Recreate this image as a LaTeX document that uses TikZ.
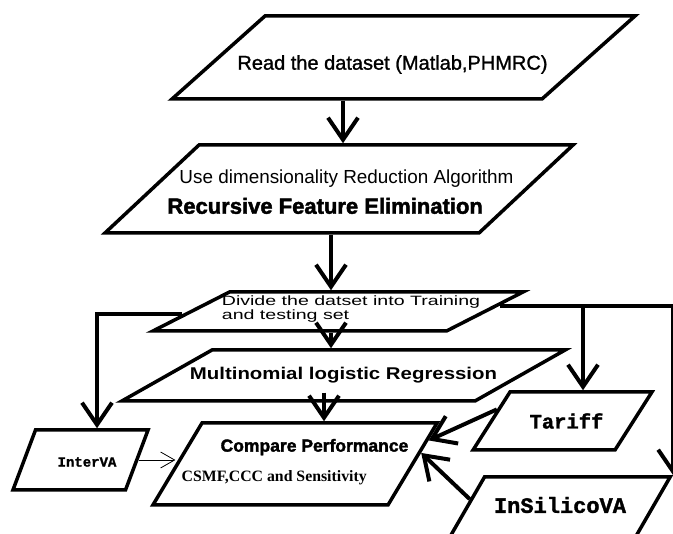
\documentclass[tikz,border=0pt]{standalone}
\usepackage{fontspec}
\setmainfont{Liberation Sans}
\setmonofont{Liberation Mono}[BoldFeatures={FakeBold=1.5}]
\newfontfamily\timesfont{Liberation Serif}
\newfontfamily\semifont{Liberation Sans}[FakeBold=1.2]
\newfontfamily\heavyfont{Liberation Sans}[BoldFeatures={FakeBold=2}]
\newfontfamily\widefont{Liberation Sans}[FakeStretch=1.2]
\newfontfamily\widerfont{Liberation Sans}[FakeStretch=1.45]
\usetikzlibrary{shapes.geometric,arrows.meta}

\begin{document}
\begin{tikzpicture}[x=1pt,y=-1pt,>={Straight Barb[length=22pt,width=30pt]},
  io/.style={trapezium,trapezium left angle=#1,trapezium right angle={180-#1},draw,line width=3.5pt,inner sep=0pt,text depth=0pt},
  flow/.style={->,line width=4pt},
  link/.style={-{Straight Barb[length=14pt,width=16pt]},line width=0.8pt}]
\useasboundingbox (0,0) rectangle (673,534);
\clip (0,0) rectangle (673,534);

\node[io=41.75,text width=277pt,text height=83pt,
  label={[font=\semifont\fontsize{20}{24}\selectfont,xshift=-11pt,yshift=-7pt]center:Read the dataset (Matlab,PHMRC)}] (read) at (403.5,57.5) {};
\node[io=43.1,text width=280pt,text height=88pt,
  label={[align=left,font=\fontsize{18.9}{22}\selectfont,xshift=1.5pt,yshift=-3pt]center:\hspace*{12pt}Use dimensionality Reduction Algorithm\\[8pt]{\heavyfont\bfseries\fontsize{22}{24}\selectfont Recursive Feature Elimination}}] (rfe) at (339,189) {};
\node[io=27,text width=217pt,text height=39pt,
  label={[align=left,font=\widerfont\fontsize{13.5}{12}\selectfont,xshift=13pt,yshift=2.5pt]center:Divide the datset into Training\\and testing set}] (split) at (338,311.5) {};
\node[io=29.5,text width=263pt,text height=51pt,
  label={[font=\widefont\bfseries\fontsize{17}{20}\selectfont]center:Multinomial logistic Regression}] (mlr) at (343.5,375.5) {};
\node[io=59.1,text width=186pt,text height=82pt,
  label={[align=left,font=\fontsize{17.5}{20}\selectfont,yshift=2pt]center:\hspace*{39pt}{\heavyfont\bfseries Compare Performance}\\[10pt]{\timesfont\bfseries\fontsize{15.8}{18}\selectfont CSMF,CCC and Sensitivity}}] (perf) at (295,464) {};
\node[io=69.4,text width=90pt,text height=60pt,
  label={[font=\ttfamily\bfseries\fontsize{14}{16}\selectfont,xshift=6.5pt,yshift=-2pt]center:InterVA}] (interva) at (80.5,460) {};
\node[io=57.5,text width=105pt,text height=58pt,
  label={[font=\ttfamily\bfseries\fontsize{20.5}{22}\selectfont,xshift=4pt]center:Tariff}] (tariff) at (562.5,421) {};
\node[io=60,text width=151pt,text height=60pt,
  label={[font=\ttfamily\bfseries\fontsize{22}{24}\selectfont,yshift=2pt]center:InSilicoVA}] (insilico) at (560,507) {};

\coordinate (c1) at (343,0);
\coordinate (c2) at (331,0);
\coordinate (c3) at (324,0);
\coordinate (c4) at (97,0);
\coordinate (c5) at (583,0);
\coordinate (fork) at (split.2 -| c5);

\draw[flow] (read.south -| c1) -- (rfe.north -| c1);
\draw[flow] (rfe.south -| c2) -- (split.north -| c2);
\draw[flow] (split.south -| c2) -- (mlr.north -| c2);
\draw[flow] ([yshift=10pt]mlr.south -| c3) -- (perf.north -| c3);
\draw[flow] (split.181) -| (interva.north -| c4);
\draw[flow] (split.2) -| (insilico.top right corner);
\draw[flow] (fork) -- (tariff.north -| fork);
\draw[flow] (tariff.170) -- (perf.10);
\draw[flow] (insilico.175) -- (perf.5);
\draw[link] (interva.east) -- (interva.east -| perf.west);
\end{tikzpicture}
\end{document}
